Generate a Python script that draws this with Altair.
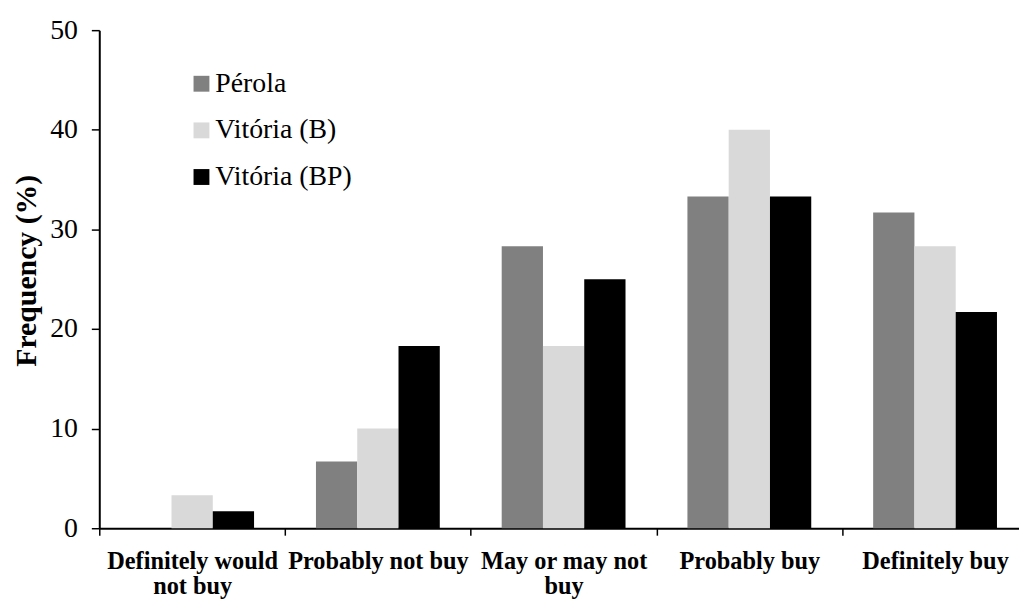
import altair as alt
import pandas as pd

categories = ["Definitely would not buy", "Probably not buy", "May or may not buy",
              "Probably buy", "Definitely buy"]
series = ["Pérola", "Vitória (B)", "Vitória (BP)"]
perola = [0.0, 6.7, 28.3, 33.3, 31.7]
vitoria_b = [3.3, 10.0, 18.3, 40.0, 28.3]
vitoria_bp = [1.7, 18.3, 25.0, 33.3, 21.7]
colors = ["#808080", "#d9d9d9", "#000000"]

rows = []
for s, vals in zip(series, [perola, vitoria_b, vitoria_bp]):
    for c, v in zip(categories, vals):
        rows.append({"category": c, "series": s, "value": v})
df = pd.DataFrame(rows)

FONT = "Liberation Serif"

label_expr = ("datum.value == 'Definitely would not buy' ? ['Definitely would', 'not buy'] : "
              "datum.value == 'May or may not buy' ? ['May or may not', 'buy'] : "
              "datum.value == 'Definitely buy' ? 'Definitely  buy' : datum.value")

chart = alt.Chart(df).mark_bar().encode(
    x=alt.X("category:N", sort=categories, title=None,
            scale=alt.Scale(paddingInner=0, paddingOuter=0),
            axis=alt.Axis(labelAngle=0, labelFont=FONT, labelFontSize=24.5,
                          labelFontWeight="bold", labelColor="black",
                          labelExpr=label_expr, labelLineHeight=25, labelLimit=400,
                          labelPadding=15, tickBand="extent", tickSize=7,
                          tickColor="black", tickWidth=1.5,
                          domainColor="black", domainWidth=2, grid=False)),
    xOffset=alt.XOffset("series:N", sort=series,
                        scale=alt.Scale(paddingInner=0, paddingOuter=0.75)),
    y=alt.Y("value:Q", title="Frequency (%)",
            scale=alt.Scale(domain=[0, 50], nice=False),
            axis=alt.Axis(values=[0, 10, 20, 30, 40, 50], grid=False,
                          labelFont=FONT, labelFontSize=28, labelColor="black",
                          labelPadding=14, tickSize=8, tickColor="black",
                          tickWidth=1.5, domainColor="black", domainWidth=2,
                          titleFont=FONT, titleFontSize=30, titleFontWeight="bold",
                          titleColor="black", titleX=-64, titleY=242,
                          titleBaseline="alphabetic", titleAngle=270)),
    color=alt.Color("series:N", sort=series,
                    scale=alt.Scale(domain=series, range=colors),
                    legend=alt.Legend(title=None, orient="none", legendX=89, legendY=40,
                                      symbolType="square", symbolSize=256,
                                      symbolStrokeWidth=0, labelFont=FONT,
                                      labelFontSize=28, labelColor="black",
                                      labelOffset=0, rowPadding=19)),
).properties(
    width=936, height=502,
    autosize=alt.AutoSizeParams(type="none"),
    padding={"left": 92, "top": 20, "right": -9, "bottom": 70},
).configure_view(stroke=None)

chart.save("out.html", embed_options={"renderer": "svg", "actions": False})
